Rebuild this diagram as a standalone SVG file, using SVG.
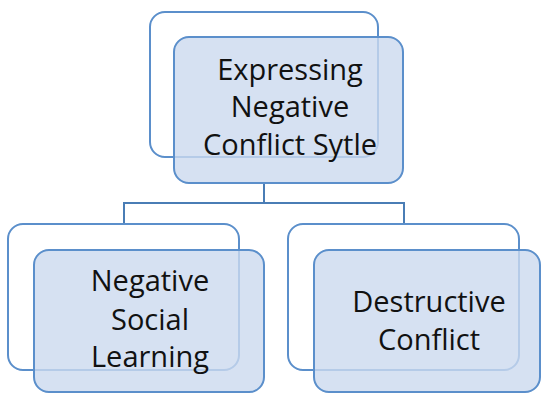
<svg xmlns="http://www.w3.org/2000/svg" width="541" height="393" viewBox="0 0 541 393">
<style>
.back{fill:#ffffff;stroke:#5B8FCB;stroke-width:2}
.front{fill:#CCDAEF;fill-opacity:0.8;stroke:#5B8FCB;stroke-width:2}
.conn{fill:none;stroke:#4A7DB5;stroke-width:2}
text{font-family:"Open Sans","Liberation Sans",sans-serif;font-size:29px;fill:#111;text-anchor:middle}
</style>
<rect x="0" y="0" width="541" height="393" fill="#ffffff"/>
<g id="connectors">
<path class="conn" d="M264 183 V203 M124 223 V203 H404 V223"/>
</g>
<g id="node-top">
<rect class="back" x="150" y="12" width="228" height="145" rx="15"/>
<rect class="front" x="174" y="37" width="229" height="146" rx="15"/>
<text x="290" y="80">Expressing</text>
<text x="290" y="117">Negative</text>
<text x="290" y="155">Conflict Sytle</text>
</g>
<g id="node-left">
<rect class="back" x="8" y="224" width="231" height="146" rx="15"/>
<rect class="front" x="34" y="250" width="230" height="142" rx="15"/>
<text x="150" y="291">Negative</text>
<text x="150" y="330">Social</text>
<text x="150" y="367">Learning</text>
</g>
<g id="node-right">
<rect class="back" x="288" y="224" width="231" height="146" rx="15"/>
<rect class="front" x="314" y="250" width="226" height="142" rx="15"/>
<text x="429" y="312">Destructive</text>
<text x="429" y="350">Conflict</text>
</g>
</svg>
